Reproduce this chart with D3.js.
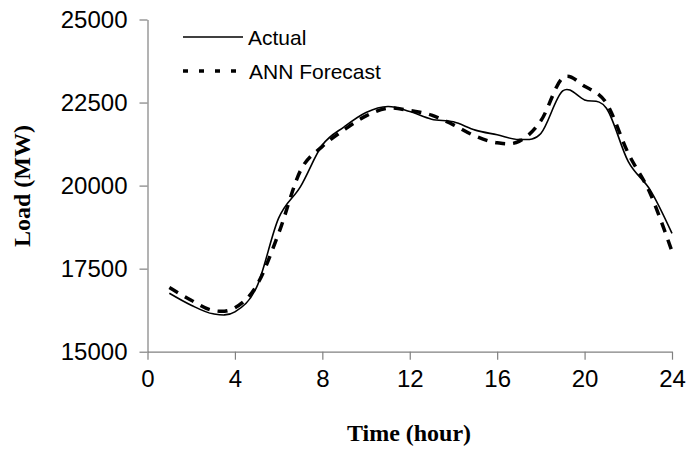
<!DOCTYPE html>
<html><head><meta charset="utf-8">
<script src="https://cdn.jsdelivr.net/npm/d3@7"></script>
<style>html,body{margin:0;padding:0;background:#fff;}</style>
</head><body>
<svg id="chart" width="686" height="449"></svg>
<script>
const hours = [1,2,3,4,5,6,7,8,9,10,11,12,13,14,15,16,17,18,19,20,21,22,23,24];
const actual = [16760,16400,16140,16200,16950,19020,19970,21220,21770,22200,22380,22230,22000,21920,21670,21530,21390,21570,22850,22580,22330,20720,19870,18560];
const forecast = [16930,16550,16240,16320,17000,18560,20450,21180,21680,22100,22330,22260,22120,21830,21490,21290,21330,21950,23240,22990,22480,20970,19770,18020];
const xTicks = [0,4,8,12,16,20,24];
const yTicks = [15000,17500,20000,22500,25000];
const seriesNames = ["Actual","ANN Forecast"];

const svg = d3.select("#chart");
const x = d3.scaleLinear().domain([0,24]).range([147.5,672]);
const y = d3.scaleLinear().domain([15000,25000]).range([351.7,19.5]);

const axisColor = "#808080";
const gx = svg.append("g").attr("transform","translate(0,351.7)")
  .call(d3.axisBottom(x).tickValues(xTicks).tickFormat(d3.format("d")).tickSize(8).tickPadding(10).tickSizeOuter(0));
const gy = svg.append("g").attr("transform","translate(147.5,0)")
  .call(d3.axisLeft(y).tickValues(yTicks).tickFormat(d3.format("d")).tickSize(8).tickPadding(12).tickSizeOuter(0));
[gx,gy].forEach(g=>{
  g.select(".domain").attr("stroke",axisColor).attr("stroke-width",1.2);
  g.selectAll(".tick line").attr("stroke",axisColor).attr("stroke-width",1.2);
  g.selectAll(".tick text").attr("font-family","Liberation Sans, Arial, sans-serif").attr("font-size",24).attr("fill","#000");
});

const line = d3.line().x((d,i)=>x(hours[i])).y(d=>y(d)).curve(d3.curveCatmullRom.alpha(0));
svg.append("path").datum(actual).attr("d",line).attr("fill","none").attr("stroke","#000").attr("stroke-width",1.6);
svg.append("path").datum(forecast).attr("d",line).attr("fill","none").attr("stroke","#000").attr("stroke-width",3.5).attr("stroke-dasharray","10,8");

// legend
svg.append("line").attr("x1",183).attr("x2",243).attr("y1",37).attr("y2",37).attr("stroke","#000").attr("stroke-width",1.6);
svg.append("text").attr("x",248).attr("y",37).attr("dy","0.36em").attr("font-family","Liberation Sans, Arial, sans-serif").attr("font-size",21).text(seriesNames[0]);
svg.append("line").attr("x1",183).attr("x2",247).attr("y1",71).attr("y2",71).attr("stroke","#000").attr("stroke-width",3.5).attr("stroke-dasharray","5,11");
svg.append("text").attr("x",249).attr("y",71).attr("dy","0.36em").attr("font-family","Liberation Sans, Arial, sans-serif").attr("font-size",21).text(seriesNames[1]);

// axis titles
svg.append("text").attr("x",409).attr("y",441).attr("text-anchor","middle")
  .attr("font-family","Liberation Serif, Times New Roman, serif").attr("font-weight","bold").attr("font-size",24).text("Time (hour)");
svg.append("text").attr("transform","translate(30,186) rotate(-90)").attr("text-anchor","middle")
  .attr("font-family","Liberation Serif, Times New Roman, serif").attr("font-weight","bold").attr("font-size",24).text("Load (MW)");
</script>
</body></html>
